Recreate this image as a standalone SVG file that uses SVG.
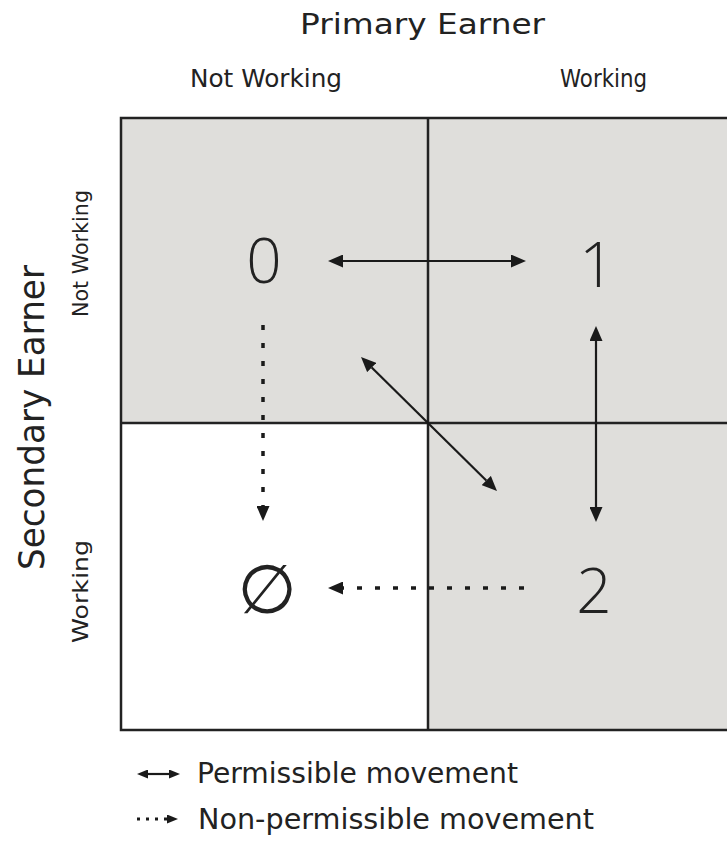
<svg xmlns="http://www.w3.org/2000/svg" width="727" height="842" viewBox="0 0 727 842">
<style>
text{font-family:"DejaVu Sans","Liberation Sans",sans-serif;fill:#222}
.lbl{font-size:24px}
.big{font-size:62px;font-family:"Open Sans","DejaVu Sans",sans-serif;font-weight:300}
.grid{stroke:#222;stroke-width:2.5;fill:none}
.solid{stroke:#1a1a1a;stroke-width:2.2;fill:none}
.dot{stroke:#1a1a1a;stroke-width:3.5;fill:none;stroke-dasharray:5 13}
</style>
<defs>
<marker id="ah" viewBox="0 0 15 13" refX="0" refY="6.5" markerWidth="15" markerHeight="13" markerUnits="userSpaceOnUse" orient="auto-start-reverse">
<path d="M0,0 L15,6.5 L0,13 z" fill="#1a1a1a"/>
</marker>
<marker id="ahs" viewBox="0 0 11 9" refX="0" refY="4.5" markerWidth="11" markerHeight="9" markerUnits="userSpaceOnUse" orient="auto-start-reverse">
<path d="M0,0 L11,4.5 L0,9 z" fill="#1a1a1a"/>
</marker>
</defs>
<rect width="727" height="842" fill="#fff"/>
<g id="grid">
<rect x="121" y="118" width="630" height="612" fill="#dfdedb"/>
<rect x="121" y="423" width="307" height="307" fill="#fff"/>
<path class="grid" d="M750,118 H121 V730 H750"/>
<path class="grid" d="M428,118 V730 M121,423 H740"/>
</g>
<g id="headers">
<text x="300" y="34" font-size="28" textLength="245" lengthAdjust="spacingAndGlyphs">Primary Earner</text>
<text class="lbl" x="190" y="87" textLength="152" lengthAdjust="spacingAndGlyphs">Not Working</text>
<text class="lbl" x="560" y="87" textLength="87" lengthAdjust="spacingAndGlyphs">Working</text>
<text transform="translate(44,570) rotate(-90)" font-size="36" x="0" y="0" textLength="305" lengthAdjust="spacingAndGlyphs">Secondary Earner</text>
<text transform="translate(88,317) rotate(-90)" font-size="22" x="0" y="0" textLength="127" lengthAdjust="spacingAndGlyphs">Not Working</text>
<text transform="translate(88,643) rotate(-90)" font-size="22" x="0" y="0" textLength="103" lengthAdjust="spacingAndGlyphs">Working</text>
</g>
<g id="node-0"><text class="big" x="264" y="283" text-anchor="middle">0</text></g>
<g id="node-1"><text class="big" x="597" y="287" text-anchor="middle">1</text></g>
<g id="node-2"><text class="big" x="594" y="613" text-anchor="middle">2</text></g>
<g id="node-empty"><text x="267" y="613" text-anchor="middle" font-size="68">∅</text></g>
<g id="connectors">
<line class="solid" x1="343" y1="261" x2="511" y2="261" marker-start="url(#ah)" marker-end="url(#ah)"/>
<line class="solid" x1="596" y1="341" x2="596" y2="507" marker-start="url(#ah)" marker-end="url(#ah)"/>
<line class="solid" x1="371.7" y1="367.5" x2="486.3" y2="480.5" marker-start="url(#ah)" marker-end="url(#ah)"/>
<path class="dot" d="M263,325 V506" marker-end="url(#ah)"/>
<path class="dot" d="M524,588 H343" marker-end="url(#ah)"/>
</g>
<g id="legend">
<line class="solid" x1="148" y1="774" x2="169" y2="774" marker-start="url(#ahs)" marker-end="url(#ahs)"/>
<path d="M137,819 H167" stroke="#1a1a1a" stroke-width="3" stroke-dasharray="3 6" marker-end="url(#ahs)"/>
<text x="197" y="783" font-size="28" textLength="321" lengthAdjust="spacingAndGlyphs">Permissible movement</text>
<text x="198" y="829" font-size="28" textLength="396" lengthAdjust="spacingAndGlyphs">Non-permissible movement</text>
</g>
</svg>
